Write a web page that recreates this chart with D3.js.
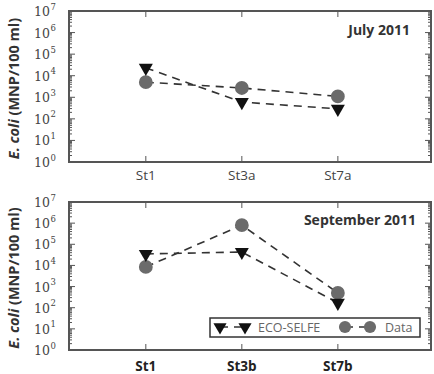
<!DOCTYPE html>
<html><head><meta charset="utf-8">
<script src="https://cdn.jsdelivr.net/npm/d3@7"></script>
<style>body{margin:0;background:#fff}svg{display:block}</style>
</head><body>
<svg id="c" width="434" height="374"></svg>
<script>
const categoriesJuly = ["St1", "St3a", "St7a"];
const categoriesSep = ["St1", "St3b", "St7b"];
const ecoJuly = [2.3e4, 6e2, 2.9e2];
const dataJuly = [5e3, 2.7e3, 1.1e3];
const ecoSep = [3.5e4, 4.3e4, 1.7e2];
const dataSep = [8.5e3, 8e5, 5e2];
const yTickExps = [0, 1, 2, 3, 4, 5, 6, 7];
const panelTitles = ["July 2011", "September 2011"];
const legendLabels = ["ECO-SELFE", "Data"];

const svg = d3.select("#c");
const frameColor = "#555";
const triColor = "#111";
const circColor = "#6b6b6b";

const panels = [
  {cats: categoriesJuly, eco: ecoJuly, dat: dataJuly, title: panelTitles[0], top: 11, bottom: 162, boldX: false, legend: false, titleY: 35, titleX: 410, xLabY: 180},
  {cats: categoriesSep, eco: ecoSep, dat: dataSep, title: panelTitles[1], top: 202, bottom: 350, boldX: true, legend: true, titleY: 225, titleX: 416, xLabY: 371}
];
const left = 69, right = 431;

const triSym = d3.symbol().type(d3.symbolTriangle).size(85);
const cirSym = d3.symbol().type(d3.symbolCircle).size(150);

panels.forEach(p => {
  const x = d3.scaleLinear().domain([-0.8, 2.97]).range([left, right]);
  const y = d3.scaleLog().domain([1, 1e7]).range([p.bottom, p.top]);
  const g = svg.append("g");

  const minor = [];
  for (let e = 0; e < 7; e++) for (let m = 2; m <= 9; m++) minor.push(m * Math.pow(10, e));
  minor.forEach(v => {
    g.append("line").attr("x1", left).attr("x2", left + 3).attr("y1", y(v)).attr("y2", y(v)).attr("stroke", frameColor).attr("stroke-width", 1);
    g.append("line").attr("x1", right - 3).attr("x2", right).attr("y1", y(v)).attr("y2", y(v)).attr("stroke", frameColor).attr("stroke-width", 1);
  });
  yTickExps.forEach(e => {
    const v = Math.pow(10, e);
    g.append("line").attr("x1", left).attr("x2", left + 6).attr("y1", y(v)).attr("y2", y(v)).attr("stroke", frameColor).attr("stroke-width", 1);
    g.append("line").attr("x1", right - 6).attr("x2", right).attr("y1", y(v)).attr("y2", y(v)).attr("stroke", frameColor).attr("stroke-width", 1);
    g.append("text").attr("x", 50).attr("y", y(v) + 5).attr("text-anchor", "end")
      .attr("font-family", "DejaVu Serif").attr("font-size", 12.5).attr("fill", "#444").text("10");
    g.append("text").attr("x", 50.5).attr("y", y(v) - 1.5).attr("font-family", "DejaVu Serif").attr("font-size", 8.5).attr("fill", "#444").text(e);
  });
  p.cats.forEach((c, i) => {
    g.append("line").attr("x1", x(i)).attr("x2", x(i)).attr("y1", p.bottom).attr("y2", p.bottom - 6).attr("stroke", frameColor);
    g.append("line").attr("x1", x(i)).attr("x2", x(i)).attr("y1", p.top).attr("y2", p.top + 6).attr("stroke", frameColor);
    g.append("text").attr("x", x(i)).attr("y", p.xLabY).attr("text-anchor", "middle")
      .attr("font-family", "Open Sans").attr("font-size", 13.5).attr("font-weight", p.boldX ? "bold" : "normal")
      .attr("fill", p.boldX ? "#222" : "#444").text(c);
  });
  g.append("rect").attr("x", left).attr("y", p.top).attr("width", right - left).attr("height", p.bottom - p.top)
    .attr("fill", "none").attr("stroke", frameColor).attr("stroke-width", 2);

  const line = d3.line().x((d, i) => x(i)).y(d => y(d));
  g.append("path").attr("d", line(p.eco)).attr("fill", "none").attr("stroke", "#333").attr("stroke-width", 1.6).attr("stroke-dasharray", "8,6");
  g.append("path").attr("d", line(p.dat)).attr("fill", "none").attr("stroke", "#333").attr("stroke-width", 1.6).attr("stroke-dasharray", "8,6");

  p.dat.forEach((v, i) => {
    g.append("path").attr("d", cirSym()).attr("transform", `translate(${x(i)},${y(v)})`).attr("fill", circColor);
  });
  p.eco.forEach((v, i) => {
    g.append("path").attr("d", triSym()).attr("transform", `translate(${x(i)},${y(v)}) rotate(180)`).attr("fill", triColor);
  });

  g.append("text").attr("x", p.titleX).attr("y", p.titleY).attr("text-anchor", "end")
    .attr("font-family", "Open Sans").attr("font-size", 14).attr("font-weight", "bold").attr("fill", "#333").text(p.title);

  const cy = (p.top + p.bottom) / 2 + 2;
  const yt = g.append("text").attr("transform", `translate(19,${cy}) rotate(-90)`).attr("text-anchor", "middle")
    .attr("font-family", "Open Sans").attr("font-size", 14.5).attr("font-weight", "bold").attr("fill", "#333");
  yt.append("tspan").attr("font-style", "italic").text("E. coli");
  yt.append("tspan").text(" (MNP/100 ml)");

  if (p.legend) {
    const lg = g.append("g");
    lg.append("rect").attr("x", 210).attr("y", 318).attr("width", 210).attr("height", 19).attr("fill", "#fff").attr("stroke", "#333").attr("stroke-width", 1.5);
    const ly = 327;
    const lsym = d3.symbol().type(d3.symbolTriangle).size(75);
    const csym = d3.symbol().type(d3.symbolCircle).size(115);
    lg.append("line").attr("x1", 220).attr("x2", 245).attr("y1", ly).attr("y2", ly).attr("stroke", "#333").attr("stroke-width", 1.6).attr("stroke-dasharray", "8,6");
    [220, 245].forEach(cx => lg.append("path").attr("d", lsym()).attr("transform", `translate(${cx},${ly}) rotate(180)`).attr("fill", triColor));
    lg.append("text").attr("x", 258).attr("y", ly + 4.5).attr("font-family", "Open Sans").attr("font-size", 12.5).attr("fill", "#666").text(legendLabels[0]);
    lg.append("line").attr("x1", 345).attr("x2", 370).attr("y1", ly).attr("y2", ly).attr("stroke", "#333").attr("stroke-width", 1.6).attr("stroke-dasharray", "8,6");
    [345, 370].forEach(cx => lg.append("path").attr("d", csym()).attr("transform", `translate(${cx},${ly})`).attr("fill", circColor));
    lg.append("text").attr("x", 385).attr("y", ly + 4.5).attr("font-family", "Open Sans").attr("font-size", 12.5).attr("fill", "#666").text(legendLabels[1]);
  }
});
</script>
</body></html>
